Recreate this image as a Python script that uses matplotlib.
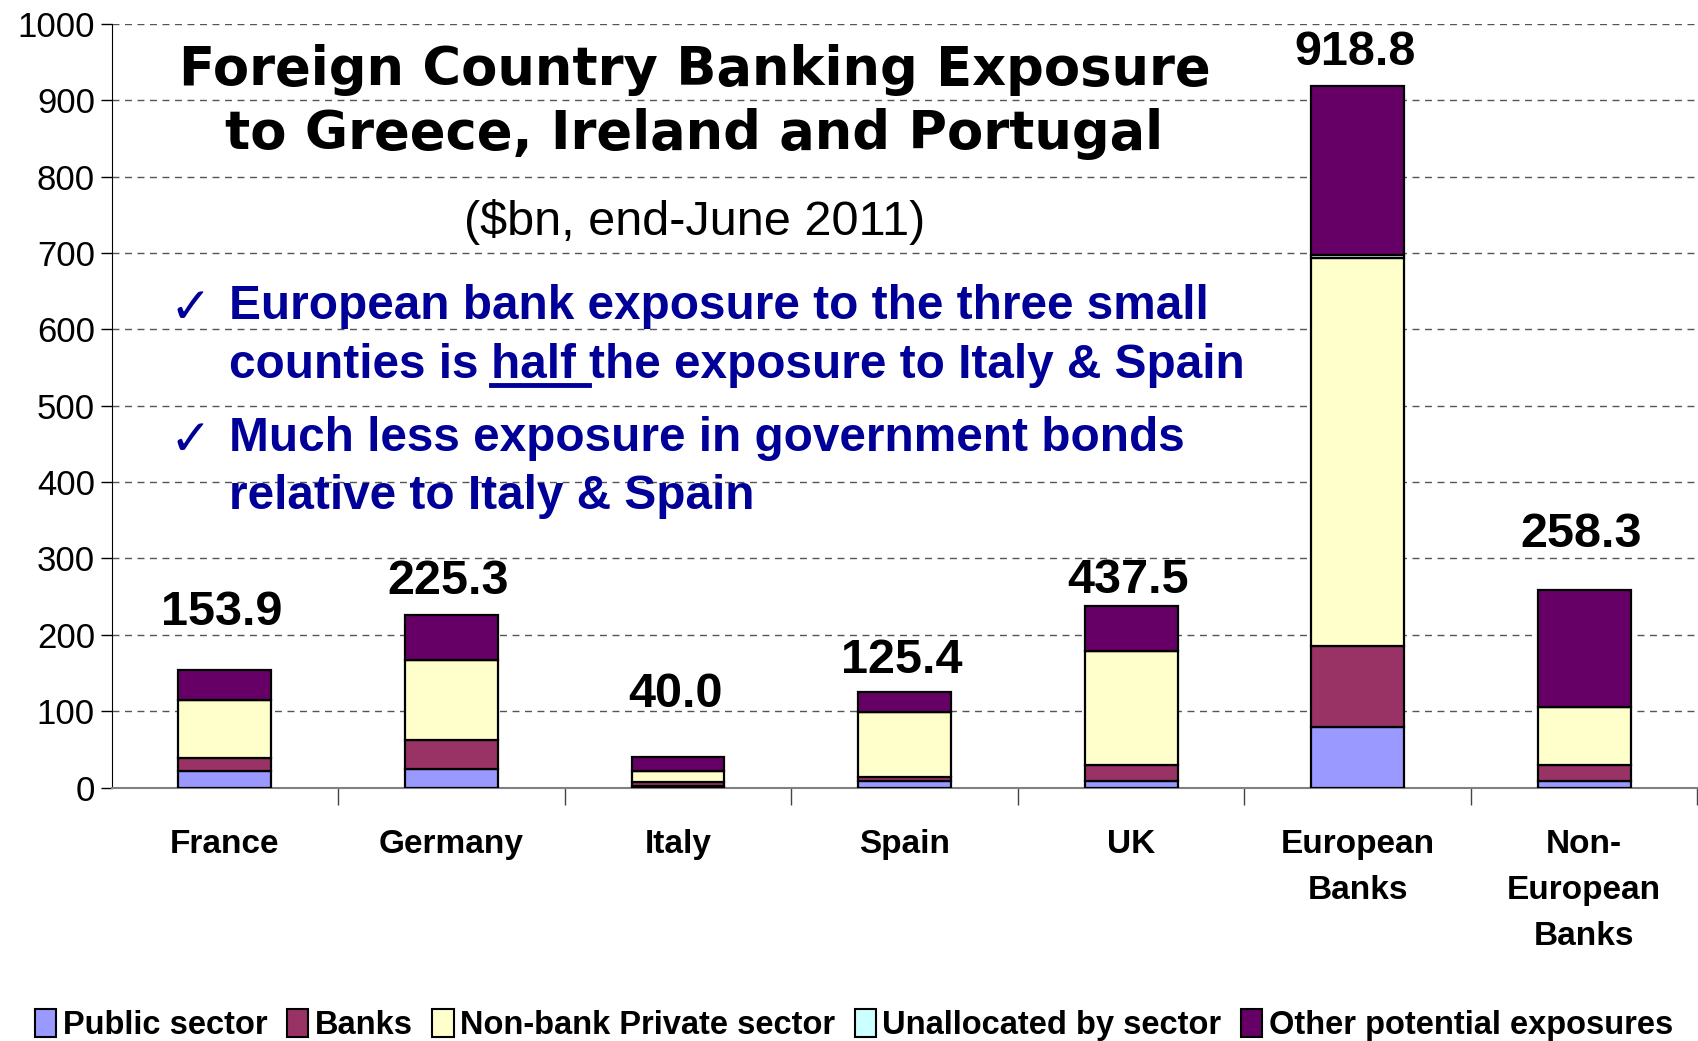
import numpy as np
import matplotlib
matplotlib.use("Agg")
import matplotlib.pyplot as plt
from matplotlib.patches import Patch

# data ($bn, end-June 2011)
categories = ["France", "Germany", "Italy", "Spain", "UK", "European\nBanks", "Non-\nEuropean\nBanks"]
public_sector = [21.0, 23.6, 2.5, 7.9, 9.0, 79.3, 8.4]
banks = [17.4, 38.4, 5.0, 6.5, 20.6, 105.4, 20.6]
nonbank_private = [76.4, 105.2, 14.0, 84.3, 149.4, 509.3, 76.0]
unallocated = [0.0, 0.0, 0.0, 0.0, 0.0, 3.0, 0.0]
other_exposures = [39.1, 58.1, 18.5, 26.7, 59.0, 221.8, 153.3]
total_labels = ["153.9", "225.3", "40.0", "125.4", "437.5", "918.8", "258.3"]

series_names = ["Public sector", "Banks", "Non-bank Private sector",
                "Unallocated by sector", "Other potential exposures"]
colors = ["#9999FF", "#993366", "#FFFFCC", "#CCFFFF", "#660066"]
label_pad = [25, 8, 29, 6, 2, 8, 24]  # points above bar top

plt.rcParams["font.family"] = ["Liberation Sans", "DejaVu Sans"]

fig = plt.figure(figsize=(16.98, 10.41), dpi=100)
ax = fig.add_axes([0.0657, 0.2435, 0.934, 0.7335])

x = np.arange(len(categories))
bottom = np.zeros(len(categories))
for vals, name, col in zip([public_sector, banks, nonbank_private, unallocated, other_exposures],
                           series_names, colors):
    ax.bar(x, vals, width=0.41, bottom=bottom, color=col, edgecolor="black",
           linewidth=1.6, label=name, zorder=3)
    bottom += np.array(vals)

for xi, top, lab, pad in zip(x, bottom, total_labels, label_pad):
    ax.annotate(lab, (xi, top), xytext=(-2, pad), textcoords="offset points",
                ha="center", va="bottom", fontsize=35, fontweight="bold")

ax.set_xlim(-0.5, len(categories) - 0.5)
ax.set_ylim(0, 1000)
ax.set_yticks(np.arange(0, 1001, 100))
ax.tick_params(axis="y", labelsize=25, length=8, width=1, pad=4, direction="out")
ax.yaxis.grid(True, linestyle=(0, (5, 4)), color="#555555", linewidth=1)
ax.set_axisbelow(True)

ax.set_xticks(x)
ax.set_xticklabels(categories, fontsize=24, fontweight="bold", linespacing=1.62)
ax.tick_params(axis="x", length=0, pad=30)
ax.set_xticks(np.arange(len(categories)) + 0.5, minor=True)
ax.tick_params(axis="x", which="minor", length=12, width=1, color="#444444")

for s in ["top", "right"]:
    ax.spines[s].set_visible(False)
ax.spines["left"].set_color("black")
ax.spines["bottom"].set_color("#808080")
ax.spines["bottom"].set_linewidth(1.5)

# title block
fig.text(0.409, 0.902, "Foreign Country Banking Exposure\nto Greece, Ireland and Portugal",
         ha="center", va="center", fontsize=38, fontweight="bold",
         family="DejaVu Sans", linespacing=1.3)
fig.text(0.409, 0.787, "($bn, end-June 2011)", ha="center", va="center", fontsize=35)

navy = "#000099"
check_x, text_x = 0.100, 0.1346
fs = 34.4
for yc in (0.703, 0.576):
    fig.text(check_x, yc, "\u2713", ha="left", va="center", fontsize=36, color=navy,
             family=["DejaVu Serif", "DejaVu Sans"])
fig.text(text_x, 0.7055, "European bank exposure to the three small", ha="left",
         va="center", fontsize=fs, fontweight="bold", color=navy)
fig.text(text_x, 0.5786, "Much less exposure in government bonds", ha="left",
         va="center", fontsize=fs, fontweight="bold", color=navy)
fig.text(text_x, 0.5234, "relative to Italy & Spain", ha="left",
         va="center", fontsize=fs, fontweight="bold", color=navy)

# second line with underlined "half "
renderer = fig.canvas.get_renderer()
y_line = 0.649
cur = text_x
pieces = ["counties is ", "half ", "the exposure to Italy & Spain"]
for i, piece in enumerate(pieces):
    t = fig.text(cur, y_line, piece, ha="left", va="center", fontsize=fs,
                 fontweight="bold", color=navy)
    bb = t.get_window_extent(renderer).transformed(fig.transFigure.inverted())
    if i == 1:
        fig.add_artist(plt.Line2D([bb.x0, bb.x1], [bb.y0 + 0.003, bb.y0 + 0.003],
                                  transform=fig.transFigure, color=navy, linewidth=3.5))
    cur = bb.x1

handles = [Patch(facecolor=c, edgecolor="black", linewidth=1.5) for c in colors]
fig.legend(handles, series_names, loc="center", bbox_to_anchor=(0.503, 0.015),
           ncol=5, frameon=False, handlelength=0.65, handleheight=0.9,
           handletextpad=0.2, columnspacing=0.6,
           prop={"weight": "bold", "size": 23.5})

fig.savefig("out.png", dpi=100)
